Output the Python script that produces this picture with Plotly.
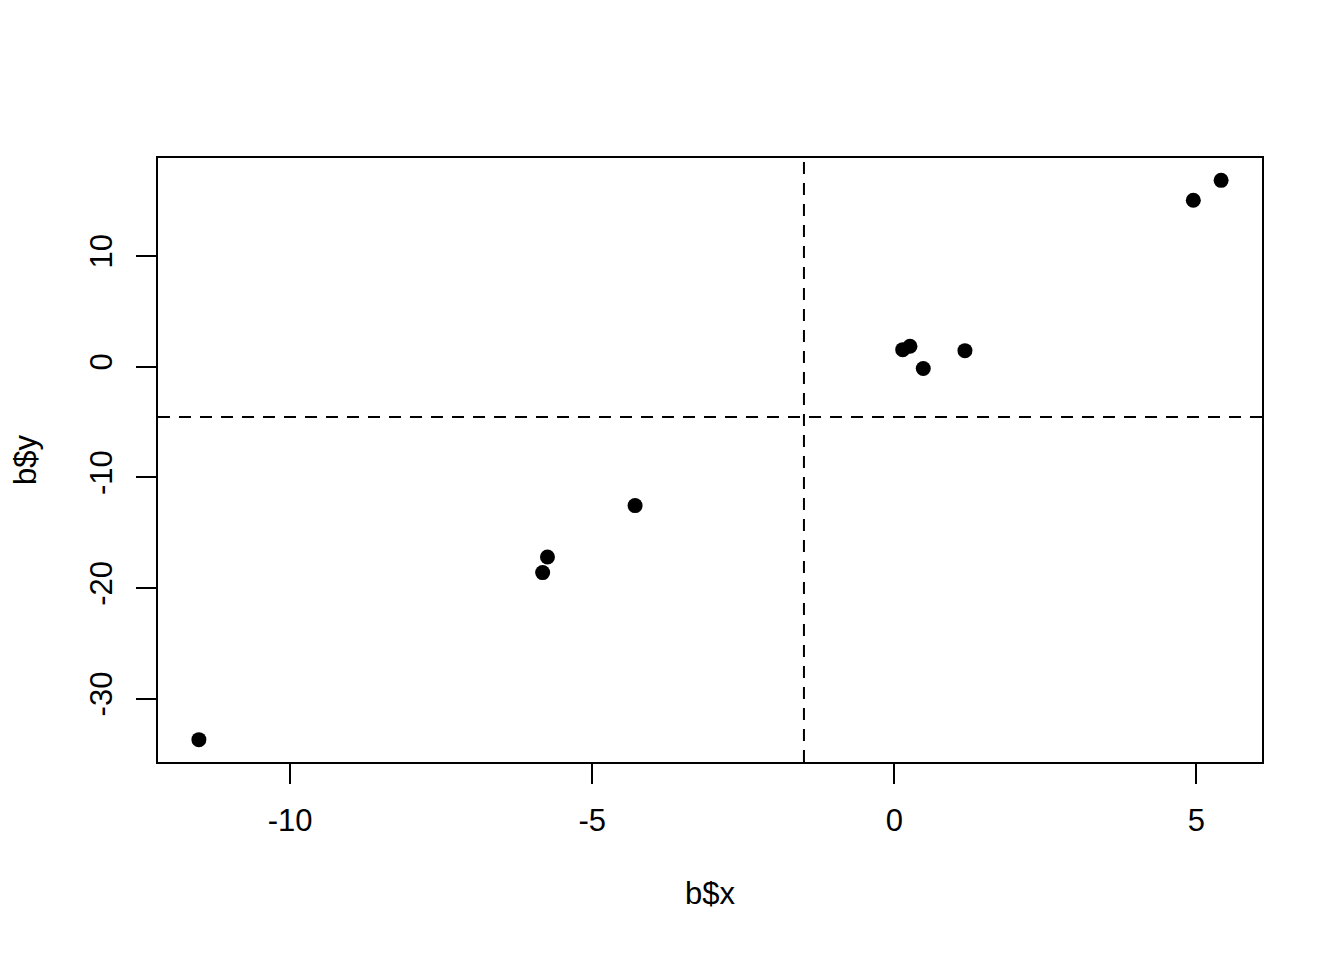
import plotly.graph_objects as go

x_vals = [-11.51, -5.82, -5.74, -4.29, 0.14, 0.26, 0.48, 1.17, 4.95, 5.41]
y_vals = [-33.70, -18.61, -17.20, -12.56, 1.53, 1.83, -0.18, 1.44, 15.02, 16.82]
x_ticks = [-10, -5, 0, 5]
y_ticks = [-30, -20, -10, 0, 10]
v_line = sum(x_vals) / len(x_vals)
h_line = sum(y_vals) / len(y_vals)

def pad(vals):
    lo, hi = min(vals), max(vals)
    s = hi - lo
    return [lo - 0.04 * s, hi + 0.04 * s]

font = dict(family="Liberation Sans, Arial, sans-serif", size=31, color="black")

fig = go.Figure()
fig.add_trace(go.Scatter(x=x_vals, y=y_vals, mode="markers",
                         marker=dict(color="black", size=15, line=dict(width=0)),
                         showlegend=False))
fig.add_shape(type="line", xref="x", yref="paper", x0=v_line, x1=v_line, y0=0, y1=1,
              line=dict(color="black", width=2, dash="12px,9px"))
fig.add_shape(type="line", xref="paper", yref="y", x0=0, x1=1, y0=h_line, y1=h_line,
              line=dict(color="black", width=2, dash="12px,9px"))

fig.update_layout(
    width=1344, height=960,
    margin=dict(l=150, r=90, t=150, b=206),
    plot_bgcolor="white", paper_bgcolor="white",
    font=font,
    xaxis=dict(range=pad(x_vals), tickvals=x_ticks, ticktext=[str(v) for v in x_ticks],
               showgrid=False, zeroline=False, showline=True, mirror=True,
               linecolor="black", linewidth=2, ticks="outside", ticklen=20,
               tickwidth=2, tickcolor="black", tickfont=font, ticklabelstandoff=10,
               title=dict(text="b$x", font=font, standoff=45)),
    yaxis=dict(range=pad(y_vals), tickvals=y_ticks, ticktext=[str(v) for v in y_ticks],
               showgrid=False, zeroline=False, showline=True, mirror=True,
               linecolor="black", linewidth=2, ticks="outside", ticklen=20,
               tickwidth=2, tickcolor="black", tickangle=-90, tickfont=font,
               ticklabelstandoff=12,
               title=dict(text="b$y", font=font, standoff=40)),
)
fig.write_html("out.html")
